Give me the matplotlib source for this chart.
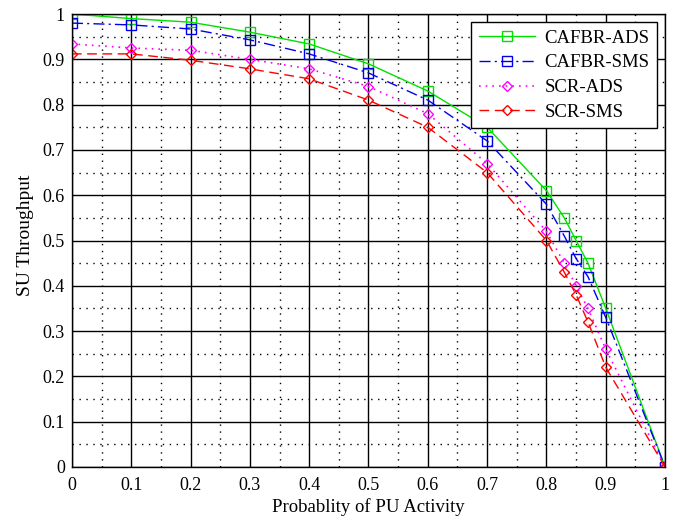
import matplotlib
matplotlib.use("Agg")
import matplotlib.pyplot as plt
from matplotlib.ticker import MultipleLocator

plt.rcParams['font.family'] = ['Liberation Serif', 'DejaVu Serif']

x = [0, 0.1, 0.2, 0.3, 0.4, 0.5, 0.6, 0.7, 0.8, 0.83, 0.85, 0.87, 0.9, 1.0]
cafbr_ads = [1.0, 0.99, 0.982, 0.96, 0.934, 0.89, 0.83, 0.75, 0.61, 0.55, 0.50, 0.45, 0.35, 0.0]
cafbr_sms = [0.98, 0.976, 0.967, 0.943, 0.912, 0.87, 0.81, 0.72, 0.58, 0.51, 0.46, 0.42, 0.33, 0.0]
scr_ads = [0.934, 0.925, 0.92, 0.90, 0.879, 0.84, 0.78, 0.67, 0.52, 0.45, 0.40, 0.35, 0.26, 0.0]
scr_sms = [0.912, 0.912, 0.898, 0.879, 0.857, 0.81, 0.75, 0.65, 0.50, 0.43, 0.38, 0.32, 0.22, 0.0]

labels = ['CAFBR-ADS', 'CAFBR-SMS', 'SCR-ADS', 'SCR-SMS']
xticks = [0, 0.1, 0.2, 0.3, 0.4, 0.5, 0.6, 0.7, 0.8, 0.9, 1]
xticklabels = ['0', '0.1', '0.2', '0.3', '0.4', '0.5', '0.6', '0.7', '0.8', '0.9', '1']
yticks = [0, 0.1, 0.2, 0.3, 0.4, 0.5, 0.6, 0.7, 0.8, 0.9, 1]
yticklabels = ['0', '0.1', '0.2', '0.3', '0.4', '0.5', '0.6', '0.7', '0.8', '0.9', '1']

fig = plt.figure(figsize=(6.78, 5.2), dpi=100)
ax = fig.add_axes([0.106, 0.102, 0.875, 0.871])

ax.plot(x, cafbr_ads, color='#00e000', linestyle='-', marker='s', markersize=7.5,
        markerfacecolor='none', markeredgewidth=1.0, linewidth=1.0, label=labels[0])
ax.plot(x, cafbr_sms, color='#0000ee', linestyle=(0, (8, 3, 1.5, 3)), marker='s', markersize=7.5,
        markerfacecolor='none', markeredgewidth=1.0, linewidth=1.0, label=labels[1])
ax.plot(x, scr_ads, color='#ff00ff', linestyle=(0, (1, 3)), marker='D', markersize=5,
        markerfacecolor='none', markeredgewidth=1.0, linewidth=1.2, label=labels[2])
ax.plot(x, scr_sms, color='#ff0000', linestyle=(0, (7, 4)), marker='D', markersize=5,
        markerfacecolor='none', markeredgewidth=1.0, linewidth=1.0, label=labels[3])

ax.set_xlim(0, 1)
ax.set_ylim(0, 1)
ax.set_xticks(xticks)
ax.set_xticklabels(xticklabels)
ax.set_yticks(yticks)
ax.set_yticklabels(yticklabels)
ax.xaxis.set_minor_locator(MultipleLocator(0.05))
ax.yaxis.set_minor_locator(MultipleLocator(0.05))
ax.grid(True, which='major', color='black', linestyle='-', linewidth=1.0)
ax.grid(True, which='minor', color='black', linestyle=(0, (1, 4)), linewidth=1.0)
ax.tick_params(which='both', direction='in', length=0, labelsize=13)
ax.tick_params(axis='x', pad=7)
ax.tick_params(axis='y', pad=5)
for s in ax.spines.values():
    s.set_linewidth(1.0)
    s.set_color('black')

ax.set_xlabel('Probablity of PU Activity', fontsize=13.5, labelpad=3)
ax.set_ylabel('SU Throughput', fontsize=14)
ax.yaxis.set_label_coords(-0.064, 0.512)

leg = ax.legend(loc='upper right', fontsize=13.5, frameon=True, fancybox=False,
                edgecolor='black', framealpha=1.0, borderpad=0.4, handlelength=3.0,
                handletextpad=0.5, labelspacing=0.4, borderaxespad=0,
                bbox_to_anchor=(0.9865, 0.982))
leg.get_frame().set_linewidth(1.0)

fig.savefig('out.png', dpi=100)
